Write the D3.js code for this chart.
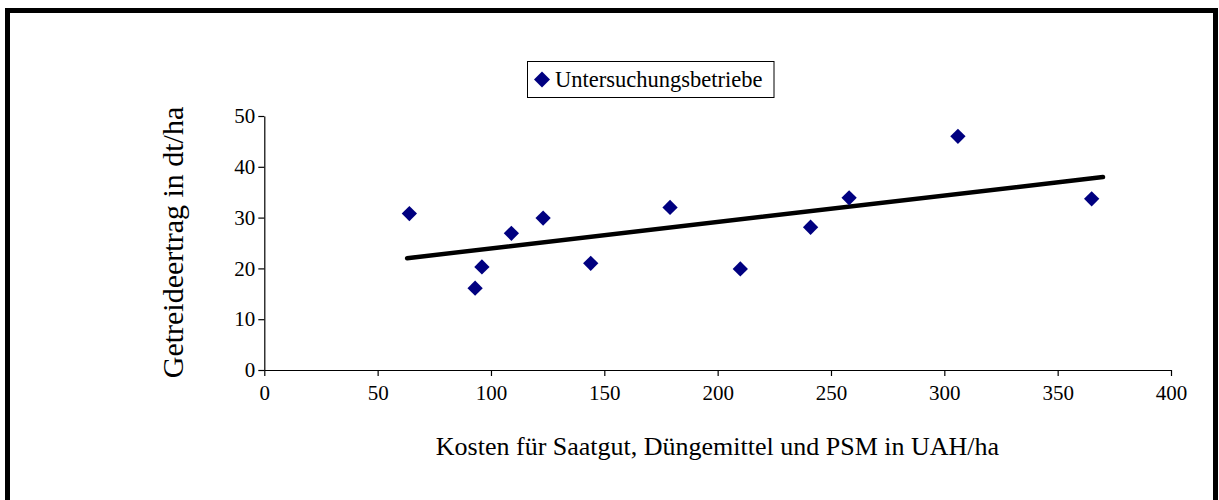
<!DOCTYPE html>
<html>
<head>
<meta charset="utf-8">
<script src="https://cdn.jsdelivr.net/npm/d3@7"></script>
<style>
  html, body { margin: 0; padding: 0; background: #fff; }
  svg { display: block; font-family: 'Liberation Serif', 'Times New Roman', serif; }
</style>
</head>
<body>
<div id="chart"></div>
<script>
// Kosten fuer Saatgut, Duengemittel und PSM (UAH/ha) je Betrieb
var kosten = [64, 93, 96, 109, 123, 144, 179, 210, 241, 258, 306, 365];
// Getreideertrag (dt/ha) je Betrieb
var ertrag = [30.8, 16.1, 20.3, 26.9, 29.9, 21.0, 32.0, 19.9, 28.1, 33.9, 46.0, 33.7];
var xTicks = [0, 50, 100, 150, 200, 250, 300, 350, 400];
var yTicks = [0, 10, 20, 30, 40, 50];
var trendRange = [63, 370];
var seriesName = 'Untersuchungsbetriebe';

var width = 1219;
var height = 500;

var svg = d3.select('#chart').append('svg')
  .attr('width', width)
  .attr('height', height);

// outer frame
svg.append('rect')
  .attr('x', 7.5)
  .attr('y', 10.5)
  .attr('width', 1208)
  .attr('height', 520)
  .attr('fill', 'none')
  .attr('stroke', '#000')
  .attr('stroke-width', 5);

var x = d3.scaleLinear().domain([0, 400]).range([264.3, 1171]);
var y = d3.scaleLinear().domain([0, 50]).range([370, 116]);

var xAxis = svg.append('g')
  .attr('transform', 'translate(0,' + y(0) + ')')
  .call(d3.axisBottom(x).tickValues(xTicks).tickSize(6).tickSizeOuter(0).tickPadding(9));

var yAxis = svg.append('g')
  .attr('transform', 'translate(' + x(0) + ',0)')
  .call(d3.axisLeft(y).tickValues(yTicks).tickSize(6).tickSizeOuter(0).tickPadding(3));

[xAxis, yAxis].forEach(function (g) {
  g.attr('font-family', null).attr('font-size', null);
  g.selectAll('text').style('font-size', '21px').attr('fill', '#000');
  g.selectAll('line, path').attr('stroke', '#000').attr('stroke-width', 1.2);
});

// regression line (least squares)
var mx = d3.mean(kosten);
var my = d3.mean(ertrag);
var sxy = d3.sum(kosten, function (d, i) { return (d - mx) * (ertrag[i] - my); });
var sxx = d3.sum(kosten, function (d) { return (d - mx) * (d - mx); });
var slope = sxy / sxx;
var icpt = my - slope * mx;

svg.append('path')
  .datum(trendRange.map(function (k) { return [k, icpt + slope * k]; }))
  .attr('d', d3.line().x(function (d) { return x(d[0]); }).y(function (d) { return y(d[1]); }))
  .attr('fill', 'none')
  .attr('stroke', '#000')
  .attr('stroke-width', 4.5)
  .attr('stroke-linecap', 'round');

var diamond = d3.symbol().type(d3.symbolSquare).size(117);

svg.selectAll('.pt')
  .data(kosten)
  .enter()
  .append('path')
  .attr('class', 'pt')
  .attr('d', diamond)
  .attr('transform', function (d, i) {
    return 'translate(' + x(d) + ',' + y(ertrag[i]) + ') rotate(45)';
  })
  .attr('fill', '#000080');

// legend
var legend = svg.append('g');
legend.append('rect')
  .attr('x', 527.5)
  .attr('y', 61.5)
  .attr('width', 246.5)
  .attr('height', 36)
  .attr('fill', '#fff')
  .attr('stroke', '#000')
  .attr('stroke-width', 1);
legend.append('path')
  .attr('d', d3.symbol().type(d3.symbolSquare).size(128))
  .attr('transform', 'translate(542,79.5) rotate(45)')
  .attr('fill', '#000080');
legend.append('text')
  .attr('x', 555)
  .attr('y', 87)
  .style('font-size', '22.5px')
  .text(seriesName);

// axis titles
svg.append('text')
  .attr('x', 717.5)
  .attr('y', 455)
  .attr('text-anchor', 'middle')
  .style('font-size', '26px')
  .text('Kosten für Saatgut, Düngemittel und PSM in UAH/ha');

svg.append('text')
  .attr('transform', 'translate(183,242.5) rotate(-90)')
  .attr('text-anchor', 'middle')
  .style('font-size', '30px')
  .text('Getreideertrag in dt/ha');
</script>
</body>
</html>
